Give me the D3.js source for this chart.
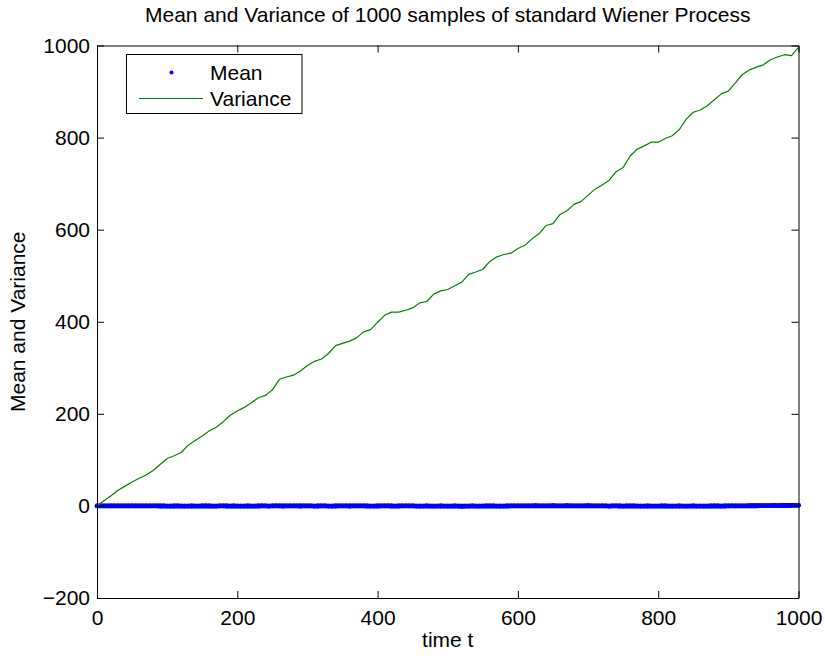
<!DOCTYPE html>
<html>
<head>
<meta charset="utf-8">
<script src="https://cdn.jsdelivr.net/npm/d3@7"></script>
<style>
  html, body { margin: 0; padding: 0; background: #fff; }
  svg { display: block; }
  text { font-family: "Liberation Sans", Arial, Helvetica, sans-serif; fill: #000; }
</style>
</head>
<body>
<svg id="chart" width="825" height="658"></svg>
<script>
// ---- data ----
const titleText = "Mean and Variance of 1000 samples of standard Wiener Process";
const xLabelText = "time t";
const yLabelText = "Mean and Variance";
const legendLabels = ["Mean", "Variance"];
const xTicks = [0, 200, 400, 600, 800, 1000];
const yTicks = [-200, 0, 200, 400, 600, 800, 1000];

// variance sampled every 10 time units (t = 0..1000)
const varianceT = d3.range(0, 1001, 10);
const variance = [
  0, 11, 22, 34, 43, 52, 60, 67, 77, 90,
  103, 109, 116, 132, 142, 152, 163, 171, 183, 197,
  206, 214, 224, 235, 240, 252, 275, 280, 284, 293,
  305, 314, 319, 331, 348, 353, 358, 365, 378, 383,
  399, 414, 421, 421, 425, 430, 441, 444, 460, 467,
  470, 478, 486, 503, 508, 514, 531, 541, 546, 549,
  559, 566, 580, 591, 609, 613, 633, 641, 655, 661,
  675, 688, 697, 707, 726, 735, 760, 775, 782, 790,
  790, 798, 804, 817, 840, 855, 860, 869, 882, 895,
  901, 919, 937, 947, 953, 958, 969, 975, 980, 978,
  996
];

// mean sampled every 5 time units (t = 0..1000)
const meanT = d3.range(0, 1001, 5);
const mean = [
  0, 0.1, 0.2, 0.1, -0.1, 0.2, 0.3, 0.2, 0.0, -0.1, 0.1, 0.2, 0.2, 0.0, 0.1, 0.3, 0.2, 0.1, -0.2, 0.0,
  -0.3, -0.5, -0.2, -0.1, -0.4, -0.6, -0.4, -0.2, -0.3, -0.4, -0.2, -0.1, -0.2, -0.5, -0.3, -0.1, 0.0, -0.2, -0.4, -0.2,
  -0.5, -0.6, -0.4, -0.2, -0.5, -0.4, -0.2, 0.0, -0.1, -0.3, -0.1, 0.1, 0.0, -0.2, 0.0, 0.2, 0.1, -0.1, -0.2, -0.1,
  0.1, -0.1, -0.3, -0.2, 0.0, -0.1, -0.3, -0.4, -0.2, 0.0, 0.1, -0.1, -0.2, -0.1, 0.1, 0.2, 0.0, -0.2, -0.3, -0.4,
  -0.2, -0.1, 0.1, 0.0, -0.2, -0.4, -0.2, 0.0, 0.2, 0.0, -0.1, -0.3, -0.5, -0.3, -0.1, -0.3, -0.5, -0.4, -0.2, -0.4,
  -0.6, -0.4, -0.2, -0.4, -0.7, -0.5, -0.3, -0.1, -0.3, -0.5, -0.4, -0.2, 0.0, -0.2, -0.4, -0.6, -0.4, -0.2, -0.1, 0.1,
  0.2, 0.1, -0.1, 0.0, 0.2, 0.4, 0.2, 0.0, 0.2, 0.3, 0.4, 0.3, 0.1, 0.2, 0.4, 0.3, 0.1, -0.1, 0.0, 0.2,
  0.4, 0.2, 0.1, -0.1, 0.0, -0.1, -0.3, -0.1, 0.0, -0.2, -0.3, -0.2, 0.0, -0.2, -0.4, -0.5, -0.3, -0.2, -0.3, -0.4,
  -0.3, -0.1, -0.2, -0.4, -0.6, -0.4, -0.2, -0.4, -0.5, -0.3, -0.2, -0.3, -0.4, -0.6, -0.4, -0.2, -0.1, -0.2, -0.4, -0.2,
  0.0, 0.1, 0.0, 0.2, 0.3, 0.2, 0.4, 0.5, 0.4, 0.5, 0.7, 0.6, 0.8, 0.9, 0.7, 0.9, 1.0, 0.9, 1.1, 1.2,
  1.2
];

// ---- layout ----
const plot = { left: 97, right: 798.5, top: 45.5, bottom: 598 };
const meanColor = "#0000ff";
const varColor = "#008000";
const fontSize = 21;

const svg = d3.select("#chart");
const x = d3.scaleLinear().domain([0, 1000]).range([plot.left, plot.right]);
const y = d3.scaleLinear().domain([-200, 1000]).range([plot.bottom, plot.top]);

// data marks (clipped to the axes box)
svg.append("clipPath").attr("id", "clip").append("rect")
  .attr("x", plot.left - 3).attr("y", plot.top)
  .attr("width", plot.right - plot.left + 6).attr("height", plot.bottom - plot.top);

const g = svg.append("g").attr("clip-path", "url(#clip)");

// mean: dense dot markers merge into a solid band
g.append("path")
  .datum(mean)
  .attr("fill", "none")
  .attr("stroke", meanColor)
  .attr("stroke-width", 4.8)
  .attr("stroke-linecap", "round")
  .attr("stroke-linejoin", "round")
  .attr("d", d3.line().x((d, i) => x(meanT[i])).y(d => y(d)));

g.selectAll("circle.mean")
  .data(mean)
  .join("circle")
  .attr("class", "mean")
  .attr("cx", (d, i) => x(meanT[i]))
  .attr("cy", d => y(d))
  .attr("r", 2.4)
  .attr("fill", meanColor);

g.append("path")
  .datum(variance)
  .attr("fill", "none")
  .attr("stroke", varColor)
  .attr("stroke-width", 1.2)
  .attr("stroke-linejoin", "round")
  .attr("d", d3.line().x((d, i) => x(varianceT[i])).y(d => y(d)));

// axes (MATLAB style: ticks inside, box all round)
const tickLen = 7;
const axB = d3.axisBottom(x).tickValues(xTicks).tickSizeInner(-tickLen).tickSizeOuter(0).tickPadding(12)
  .tickFormat(d => String(d));
const axT = d3.axisTop(x).tickValues(xTicks).tickSizeInner(-tickLen).tickSizeOuter(0).tickFormat("");
const axL = d3.axisLeft(y).tickValues(yTicks).tickSizeInner(-tickLen).tickSizeOuter(0).tickPadding(7)
  .tickFormat(d => d < 0 ? "\u2212" + Math.abs(d) : String(d));
const axR = d3.axisRight(y).tickValues(yTicks).tickSizeInner(-tickLen).tickSizeOuter(0).tickFormat("");

function style(sel) {
  sel.selectAll("path.domain").attr("stroke", "#000").attr("stroke-width", 1);
  sel.selectAll(".tick line").attr("stroke", "#000").attr("stroke-width", 1);
  sel.selectAll(".tick text").attr("font-size", fontSize)
    .attr("font-family", '"Liberation Sans", Arial, sans-serif').attr("fill", "#000");
}
svg.append("g").attr("transform", `translate(0,${plot.bottom})`).call(axB).call(style);
svg.append("g").attr("transform", `translate(0,${plot.top})`).call(axT).call(style);
svg.append("g").attr("transform", `translate(${plot.left},0)`).call(axL).call(style);
svg.append("g").attr("transform", `translate(${plot.right},0)`).call(axR).call(style);

// title and axis labels
svg.append("text")
  .attr("x", (plot.left + plot.right) / 2).attr("y", 22)
  .attr("text-anchor", "middle").attr("font-size", fontSize)
  .text(titleText);

svg.append("text")
  .attr("x", (plot.left + plot.right) / 2).attr("y", 647)
  .attr("text-anchor", "middle").attr("font-size", fontSize)
  .text(xLabelText);

svg.append("text")
  .attr("transform", `translate(25,${(plot.top + plot.bottom) / 2}) rotate(-90)`)
  .attr("text-anchor", "middle").attr("font-size", fontSize)
  .text(yLabelText);

// legend
const lg = svg.append("g");
lg.append("rect")
  .attr("x", 126.5).attr("y", 54.5).attr("width", 175.5).attr("height", 59)
  .attr("fill", "#fff").attr("stroke", "#000").attr("stroke-width", 1);
lg.append("circle").attr("cx", 171.5).attr("cy", 72.5).attr("r", 2).attr("fill", meanColor);
lg.append("line").attr("x1", 139).attr("x2", 203).attr("y1", 98.5).attr("y2", 98.5)
  .attr("stroke", varColor).attr("stroke-width", 1.2);
lg.append("text").attr("x", 210).attr("y", 72.5).attr("dy", "0.35em")
  .attr("font-size", fontSize).text(legendLabels[0]);
lg.append("text").attr("x", 210).attr("y", 98.5).attr("dy", "0.35em")
  .attr("font-size", fontSize).text(legendLabels[1]);
</script>
</body>
</html>
